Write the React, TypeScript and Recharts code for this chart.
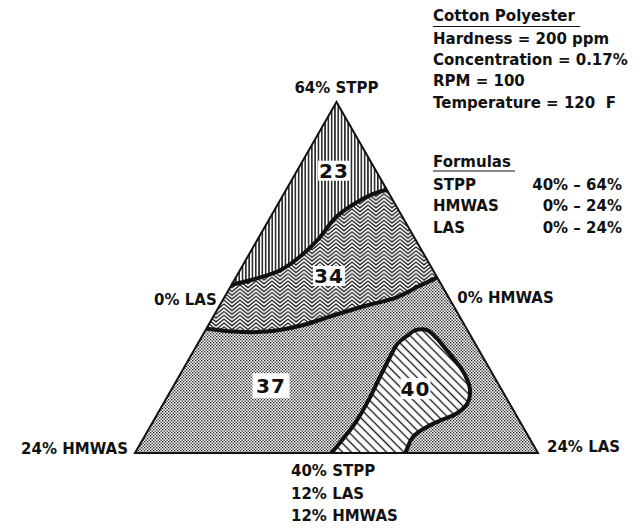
import React from 'react';
import { ScatterChart, Scatter, XAxis, YAxis, Customized } from 'recharts';

// Composition points given as [LAS %, HMWAS %]; STPP % = 64 - LAS - HMWAS
type Comp = [number, number];

const triangleCorners: Comp[] = [[0, 24], [24, 0], [0, 0]];
const topVertex: Comp = [0, 0];

const boundary23to34: Comp[] = [
  [0, 12.5], [1.2, 10.9], [2.4, 9.1], [3.1, 7.5], [3.6, 5.8], [3.9, 4.0], [4.6, 2.3], [5.3, 1.0], [6.0, 0],
];
const boundary34to37: Comp[] = [
  [0, 15.5], [1.7, 14.0], [3.7, 12.0], [5.5, 9.8], [7.1, 7.5], [8.8, 5.1], [10.2, 3.2], [11.2, 1.4], [12.0, 0],
];
const region40Outline: Comp[] = [
  [11.7, 12.3], [11.9, 11.2], [12.1, 9.7], [12.1, 8.1], [12.0, 7.0], [11.9, 5.5], [11.9, 4.6], [12.2, 3.8],
  [12.5, 3.1], [13.2, 2.4], [14.1, 2.1], [15.2, 1.9], [16.4, 1.7], [17.2, 1.7], [17.8, 1.9], [18.1, 2.5],
  [17.8, 3.5], [17.2, 4.5], [16.5, 5.7], [16.0, 6.9], [16.1, 7.9],
];

const regionValues = ['23', '34', '37', '40'];
const regionLabelComps: Comp[] = [[2.2, 2.5], [5.5, 6.4], [5.8, 13.6], [14.5, 5.1]];

const cornerLabels = ['64% STPP', '0% LAS', '0% HMWAS', '24% HMWAS', '24% LAS', '40% STPP\n12% LAS\n12% HMWAS'];
const cornerLabelComps: Comp[] = [[0, 0], [0, 12], [12, 0], [0, 24], [24, 0], [12, 12]];

const infoTitle = 'Cotton Polyester';
const infoConditions = ['Hardness = 200 ppm', 'Concentration = 0.17%', 'RPM = 100', 'Temperature = 120 \u00a0F'];
const formulasTitle = 'Formulas';
const formulaNames = ['STPP', 'HMWAS', 'LAS'];
const formulaRanges = ['40% \u2013 64%', '0% \u2013 24%', '0% \u2013 24%'];

// ternary -> cartesian (triangle plane)
const toPoint = ([las, hm]: Comp) => ({ x: 0.5 + (las - hm) / 48, y: 1 - (las + hm) / 24 });

const FONT = "'DejaVu Sans', sans-serif";
const INK = '#111';

const cornerLabelStyle = [
  { dx: 0, dy: -9, anchor: 'middle' },
  { dx: -19, dy: 27.5, anchor: 'end' },
  { dx: 20, dy: 25.5, anchor: 'start' },
  { dx: -7, dy: 1, anchor: 'end' },
  { dx: 9, dy: -1, anchor: 'start' },
  { dx: -45.5, dy: 23, anchor: 'start' },
];
const regionBox = [
  { w: 32, h: 20 },
  { w: 32, h: 20 },
  { w: 37, h: 25 },
  { w: 30, h: 21 },
];

function smoothPath(pts: { x: number; y: number }[]) {
  let d = `M${pts[0].x},${pts[0].y}`;
  for (let i = 0; i < pts.length - 1; i++) {
    const p0 = pts[i - 1] || pts[i];
    const p1 = pts[i];
    const p2 = pts[i + 1];
    const p3 = pts[i + 2] || p2;
    const c1x = p1.x + (p2.x - p0.x) / 6;
    const c1y = p1.y + (p2.y - p0.y) / 6;
    const c2x = p2.x - (p3.x - p1.x) / 6;
    const c2y = p2.y - (p3.y - p1.y) / 6;
    d += ` C${c1x},${c1y} ${c2x},${c2y} ${p2.x},${p2.y}`;
  }
  return d;
}

function RegionShape(props: any) {
  const { points, curveCount, paint, edgeWidth, outlineWidth } = props;
  if (!points || points.length < 2) return null;
  const n = curveCount || 0;
  let d: string;
  let edgeD: string | null = null;
  if (n > 1) {
    const curve = points.slice(0, n);
    const rest = points.slice(n);
    edgeD = smoothPath(curve);
    d = edgeD + rest.map((p: any) => ` L${p.x},${p.y}`).join('') + ' Z';
  } else {
    d = 'M' + points.map((p: any) => `${p.x},${p.y}`).join(' L') + ' Z';
  }
  return (
    <g>
      {paint ? <path d={d} fill={paint} stroke="none" /> : null}
      {edgeD && edgeWidth ? (
        <path d={edgeD} fill="none" stroke={INK} strokeWidth={edgeWidth} strokeLinejoin="round" />
      ) : null}
      {outlineWidth ? <path d={d} fill="none" stroke={INK} strokeWidth={outlineWidth} strokeLinejoin="miter" /> : null}
    </g>
  );
}

const noMark = () => <g />;

function RegionLabel(props: any) {
  const { cx, cy, payload } = props;
  const b = regionBox[payload.i];
  return (
    <g>
      <rect x={cx - b.w / 2} y={cy - b.h / 2} width={b.w} height={b.h} fill="#fff" />
      <text x={cx} y={cy + 7.2} textAnchor="middle" fontFamily={FONT} fontWeight="bold" fontSize={20} fill={INK} letterSpacing={1}>
        {payload.label}
      </text>
    </g>
  );
}

function CornerLabel(props: any) {
  const { cx, cy, payload } = props;
  const st = cornerLabelStyle[payload.i];
  const lines = String(payload.label).split('\n');
  return (
    <g>
      {lines.map((l: string, k: number) => (
        <text key={k} x={cx + st.dx} y={cy + st.dy + k * 22.5} textAnchor={st.anchor as any} fontFamily={FONT} fontWeight="bold" fontSize={15} fill={INK}>
          {l}
        </text>
      ))}
    </g>
  );
}

function PatternDefs() {
  const zz = [-3, -2, -1, 0, 1];
  const s = 3.8;
  const a = 6.5;
  return (
    <defs>
      <pattern id="stipple" width="3" height="3" patternUnits="userSpaceOnUse">
        <rect width="3" height="3" fill="#fff" />
        <rect x="0" y="0" width="1.35" height="1.35" fill="#222" />
        <rect x="1.5" y="1.5" width="1.35" height="1.35" fill="#222" />
      </pattern>
      <pattern id="vlines" width="3.3" height="10" patternUnits="userSpaceOnUse">
        <rect width="3.3" height="10" fill="#fff" />
        <line x1="1.65" y1="0" x2="1.65" y2="10" stroke={INK} strokeWidth="1.45" />
      </pattern>
      <pattern id="zigzag" width="16" height={s} patternUnits="userSpaceOnUse">
        <rect width="16" height={s} fill="#fff" />
        {zz.map((k) => (
          <path key={k} d={`M-8,${k * s + a} L0,${k * s} L8,${k * s + a} L16,${k * s} L24,${k * s + a}`} fill="none" stroke={INK} strokeWidth="1.25" />
        ))}
      </pattern>
      <pattern id="diag" width="6.2" height="6.2" patternUnits="userSpaceOnUse" patternTransform="rotate(45)">
        <rect width="6.2" height="6.2" fill="#fff" />
        <line x1="0" y1="3.1" x2="6.2" y2="3.1" stroke={INK} strokeWidth="1.3" />
      </pattern>
    </defs>
  );
}

function InfoBlock() {
  const x = 433;
  return (
    <g fontFamily={FONT} fontWeight="bold" fontSize={15} fill={INK}>
      <text x={x} y={21}>{infoTitle}</text>
      <line x1={x} x2={580} y1={26.5} y2={26.5} stroke={INK} strokeWidth={1.2} />
      {infoConditions.map((t, i) => (
        <text key={t} x={x} y={44 + i * 21.2}>{t}</text>
      ))}
      <text x={x} y={166.5}>{formulasTitle}</text>
      <line x1={x} x2={515} y1={171} y2={171} stroke={INK} strokeWidth={1.2} />
      {formulaNames.map((t, i) => (
        <text key={t} x={x} y={189.5 + i * 21.8}>{t}</text>
      ))}
      {formulaRanges.map((t, i) => (
        <text key={i} x={622} y={189.5 + i * 21.8} textAnchor="end">{t}</text>
      ))}
    </g>
  );
}

const baseData = triangleCorners.map(toPoint);
const upper34Data = [...boundary34to37, topVertex].map(toPoint);
const upper23Data = [...boundary23to34, topVertex].map(toPoint);
const blobData = region40Outline.map(toPoint);
const regionLabelData = regionLabelComps.map((c, i) => ({ ...toPoint(c), label: regionValues[i], i }));
const cornerLabelData = cornerLabelComps.map((c, i) => ({ ...toPoint(c), label: cornerLabels[i], i }));

export default function App() {
  return (
    <div style={{ position: 'absolute', left: 0, top: 0, width: 636, height: 532, background: '#fff' }}>
      <ScatterChart width={636} height={532} margin={{ top: 102, right: 98, bottom: 79, left: 135 }}>
        <Customized component={<PatternDefs />} />
        <XAxis type="number" dataKey="x" domain={[0, 1]} hide />
        <YAxis type="number" dataKey="y" domain={[0, 1]} hide />
        <Scatter data={baseData} isAnimationActive={false} shape={noMark} lineType="joint" line={<RegionShape paint="url(#stipple)" />} />
        <Scatter data={upper34Data} isAnimationActive={false} shape={noMark} lineType="joint" line={<RegionShape paint="url(#zigzag)" curveCount={boundary34to37.length} edgeWidth={4} />} />
        <Scatter data={upper23Data} isAnimationActive={false} shape={noMark} lineType="joint" line={<RegionShape paint="url(#vlines)" curveCount={boundary23to34.length} edgeWidth={4} />} />
        <Scatter data={blobData} isAnimationActive={false} shape={noMark} lineType="joint" line={<RegionShape paint="url(#diag)" curveCount={region40Outline.length} edgeWidth={4} />} />
        <Scatter data={baseData} isAnimationActive={false} shape={noMark} lineType="joint" line={<RegionShape outlineWidth={2} />} />
        <Scatter data={regionLabelData} isAnimationActive={false} shape={(p: any) => <RegionLabel {...p} />} />
        <Scatter data={cornerLabelData} isAnimationActive={false} shape={(p: any) => <CornerLabel {...p} />} />
        <Customized component={<InfoBlock />} />
      </ScatterChart>
    </div>
  );
}
